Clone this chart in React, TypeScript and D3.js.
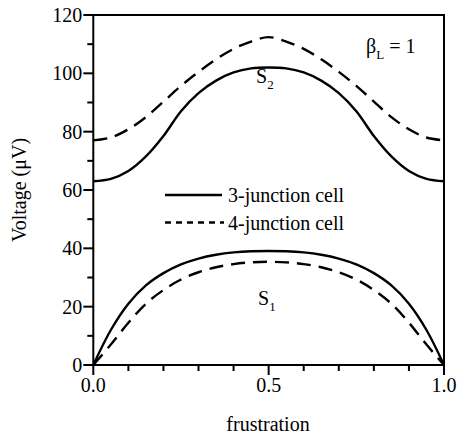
import React from "react";
import * as d3 from "d3";

const frustration = [0, 0.05, 0.1, 0.15, 0.2, 0.25, 0.3, 0.35, 0.4, 0.45, 0.5, 0.55, 0.6, 0.65, 0.7, 0.75, 0.8, 0.85, 0.9, 0.95, 1.0];
const s1ThreeJunction = [0, 12, 21, 27.3, 31.5, 34.5, 36.5, 37.8, 38.6, 39, 39.1, 39, 38.6, 37.8, 36.5, 34.5, 31.5, 27.3, 21, 12, 0];
const s1FourJunction = [0, 7, 14.5, 21, 25.7, 29.3, 31.8, 33.5, 34.6, 35.2, 35.4, 35.2, 34.6, 33.5, 31.8, 29.3, 25.7, 21, 14.5, 7, 0];
const s2ThreeJunction = [63, 63.8, 66.5, 71.5, 78.5, 87, 93.2, 97.5, 100.3, 101.7, 102, 101.7, 100.3, 97.5, 93.2, 87, 78.5, 71.5, 66.5, 63.8, 63];
const s2FourJunction = [77, 78, 80.8, 85, 90.3, 95.7, 100.5, 104.8, 108.4, 110.9, 112.4, 110.9, 108.4, 104.8, 100.5, 95.7, 90.3, 85, 80.8, 78, 77];

const xMajorTicks = [0, 0.5, 1.0];
const xMinorTicks = [0.1, 0.2, 0.3, 0.4, 0.6, 0.7, 0.8, 0.9];
const yMajorTicks = [0, 20, 40, 60, 80, 100, 120];
const yMinorTicks = [10, 30, 50, 70, 90, 110];
const legendLabels = ["3-junction cell", "4-junction cell"];

export default function App() {
  const W = 459, H = 443;
  const left = 93.3, right = 444, top = 15, bottom = 365;
  const x = d3.scaleLinear().domain([0, 1]).range([left, right]);
  const y = d3.scaleLinear().domain([0, 120]).range([bottom, top]);
  const line = (vals: number[]) =>
    d3.line<number>()
      .x((_, i) => x(frustration[i]))
      .y((v) => y(v))
      .curve(d3.curveCatmullRom.alpha(0.5))(vals) as string;

  const series = [
    { vals: s2ThreeJunction, dash: undefined },
    { vals: s2FourJunction, dash: "14 8" },
    { vals: s1ThreeJunction, dash: undefined },
    { vals: s1FourJunction, dash: "14 8" },
  ];

  return (
    <svg className="chart" width={W} height={H} style={{ position: "absolute", left: 0, top: 0, background: "#fff" }}>
      <style>{`svg.chart text, svg.chart tspan { font-family: "Liberation Serif", serif !important; }`}</style>
      <rect x={0} y={0} width={W} height={H} fill="#fff" />
      <defs>
        <clipPath id="plot">
          <rect x={left} y={top} width={right - left} height={bottom - top} />
        </clipPath>
      </defs>
      <g clipPath="url(#plot)">
        {series.map((s, i) => (
          <path key={i} d={line(s.vals)} fill="none" stroke="#000" strokeWidth={2.4} strokeDasharray={s.dash} />
        ))}
      </g>
      <rect x={left} y={top} width={right - left} height={bottom - top} fill="none" stroke="#000" strokeWidth={2} />
      {xMajorTicks.map((t) => (
        <g key={"xM" + t}>
          <line x1={x(t)} x2={x(t)} y1={bottom} y2={bottom + 10} stroke="#000" strokeWidth={2} />
          <text x={x(t)} y={392} textAnchor="middle" fontSize={20}>{t.toFixed(1)}</text>
        </g>
      ))}
      {xMinorTicks.map((t) => (
        <line key={"xm" + t} x1={x(t)} x2={x(t)} y1={bottom} y2={bottom + 6} stroke="#000" strokeWidth={2} />
      ))}
      {yMajorTicks.map((t) => (
        <g key={"yM" + t}>
          <line x1={left - 10} x2={left} y1={y(t)} y2={y(t)} stroke="#000" strokeWidth={2} />
          <text x={left - 11} y={y(t) + 7} textAnchor="end" fontSize={20}>{t}</text>
        </g>
      ))}
      {yMinorTicks.map((t) => (
        <line key={"ym" + t} x1={left - 6} x2={left} y1={y(t)} y2={y(t)} stroke="#000" strokeWidth={2} />
      ))}
      <text x={268} y={431} textAnchor="middle" fontSize={20}>frustration</text>
      <text transform={`translate(26,${(top + bottom) / 2}) rotate(-90)`} textAnchor="middle" fontSize={20}>Voltage (μV)</text>

      <line x1={165} x2={222} y1={195} y2={195} stroke="#000" strokeWidth={2.4} />
      <text x={228} y={202} fontSize={20}>{legendLabels[0]}</text>
      <line x1={165} x2={224} y1={222.5} y2={222.5} stroke="#000" strokeWidth={2.4} strokeDasharray="6 5" />
      <text x={228} y={229.5} fontSize={20}>{legendLabels[1]}</text>

      <text x={256} y={83} fontSize={20}>S<tspan fontSize={13} dy={6}>2</tspan></text>
      <text x={258} y={305} fontSize={20}>S<tspan fontSize={13} dy={6}>1</tspan></text>
      <text x={366} y={53} fontSize={20}>β<tspan fontSize={13} dy={6}>L</tspan><tspan dy={-6}> = 1</tspan></text>
    </svg>
  );
}
